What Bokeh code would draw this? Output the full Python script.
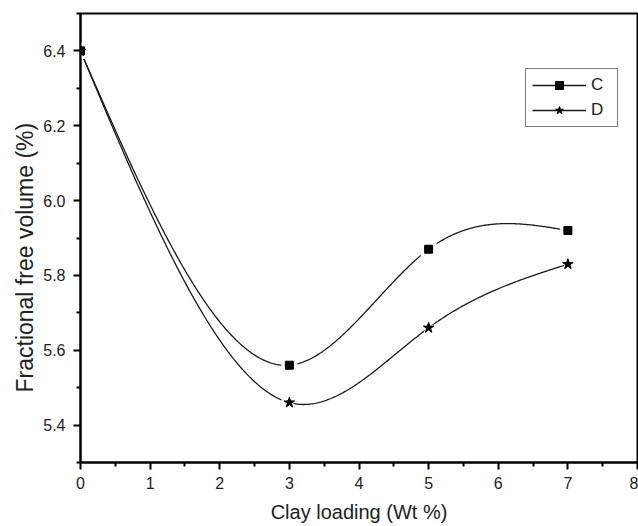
import numpy as np
from bokeh.plotting import figure
from bokeh.models import FixedTicker, Range1d, Legend, LegendItem, Title, PrintfTickFormatter
from bokeh.embed import file_html
from bokeh.resources import INLINE

# ---- data ----
clay_loading = [0, 3, 5, 7]
ffv_C = [6.40, 5.56, 5.87, 5.92]
ffv_D = [6.40, 5.46, 5.66, 5.83]
x_ticks = [0, 1, 2, 3, 4, 5, 6, 7, 8]
y_ticks = [5.4, 5.6, 5.8, 6.0, 6.2, 6.4]


def natural_spline(x, y, n=400):
    x = np.asarray(x, float)
    y = np.asarray(y, float)
    k = len(x)
    h = np.diff(x)
    A = np.zeros((k, k))
    b = np.zeros(k)
    A[0, 0] = 1.0
    A[-1, -1] = 1.0
    for i in range(1, k - 1):
        A[i, i - 1] = h[i - 1]
        A[i, i] = 2 * (h[i - 1] + h[i])
        A[i, i + 1] = h[i]
        b[i] = 6 * ((y[i + 1] - y[i]) / h[i] - (y[i] - y[i - 1]) / h[i - 1])
    M = np.linalg.solve(A, b)
    t = np.linspace(x[0], x[-1], n)
    idx = np.clip(np.searchsorted(x, t) - 1, 0, k - 2)
    xi, xj = x[idx], x[idx + 1]
    yi, yj = y[idx], y[idx + 1]
    Mi, Mj = M[idx], M[idx + 1]
    hh = xj - xi
    s = (Mi * (xj - t) ** 3 / (6 * hh) + Mj * (t - xi) ** 3 / (6 * hh)
         + (yi / hh - Mi * hh / 6) * (xj - t) + (yj / hh - Mj * hh / 6) * (t - xi))
    return t, s


p = figure(width=638, height=526, output_backend="svg", toolbar_location=None,
           x_range=Range1d(0, 8), y_range=Range1d(5.3, 6.5),
           min_border_left=80, min_border_right=1, min_border_top=13, min_border_bottom=64)
p.background_fill_color = "white"
p.border_fill_color = "white"
p.outline_line_color = "black"
p.outline_line_width = 2
p.xgrid.visible = False
p.ygrid.visible = False

line_color = "#1a1a1a"
tC, sC = natural_spline(clay_loading, ffv_C)
tD, sD = natural_spline(clay_loading, ffv_D)
lC = p.line(tC, sC, line_color=line_color, line_width=1.3)
lD = p.line(tD, sD, line_color=line_color, line_width=1.3)

# white halos to reproduce the gaps between lines and symbols
p.scatter(clay_loading, ffv_C, marker="square", size=15, fill_color="white", line_color="white")
p.scatter(clay_loading, ffv_D, marker="star", size=17, fill_color="white", line_color="white")

mC = p.scatter(clay_loading, ffv_C, marker="square", size=8, fill_color="black", line_color="black")
mD = p.scatter(clay_loading, ffv_D, marker="star", size=11, fill_color="black", line_color="black")

for ax in (p.xaxis[0], p.yaxis[0]):
    ax.axis_line_width = 2
    ax.axis_line_color = "black"
    ax.major_tick_line_width = 2
    ax.minor_tick_line_width = 2
    ax.major_tick_line_color = "black"
    ax.minor_tick_line_color = "black"
    ax.major_tick_in = 0
    ax.major_tick_out = 7
    ax.minor_tick_in = 0
    ax.minor_tick_out = 4
    ax.major_label_text_font = "Liberation Sans"
    ax.major_label_text_font_size = "16px"
    ax.major_label_text_color = "#222222"
    ax.axis_label_text_font = "Liberation Sans"
    ax.axis_label_text_font_style = "normal"
    ax.axis_label_text_color = "#222222"

p.xaxis[0].ticker = FixedTicker(ticks=x_ticks,
                                minor_ticks=[v + 0.5 for v in x_ticks[:-1]])
p.yaxis[0].ticker = FixedTicker(ticks=y_ticks,
                                minor_ticks=[round(v - 0.1, 1) for v in y_ticks] + [6.5])
p.yaxis[0].formatter = PrintfTickFormatter(format="%.1f")
p.xaxis[0].axis_label = "Clay loading (Wt %)"
p.xaxis[0].axis_label_text_font_size = "20px"
p.xaxis[0].major_label_standoff = 7
p.yaxis[0].major_label_standoff = 8
p.xaxis[0].axis_label_standoff = 9

# y-axis title placed like the reference (slightly below the frame centre)
ytitle = Title(text="Fractional free volume (%)", align="left", offset=70,
               text_font="Liberation Sans", text_font_size="23px",
               text_font_style="normal", text_color="#222222", standoff=6)
p.add_layout(ytitle, "left")

legend = Legend(items=[LegendItem(label="C", renderers=[lC, mC]),
                       LegendItem(label="D", renderers=[lD, mD])],
                location=(445, 335))
legend.border_line_color = "black"
legend.border_line_width = 1.3
legend.background_fill_color = "white"
legend.background_fill_alpha = 1.0
legend.glyph_width = 54
legend.glyph_height = 20
legend.label_height = 20
legend.spacing = 5
legend.padding = 6
legend.margin = 0
legend.label_standoff = 5
legend.label_text_font = "Liberation Sans"
legend.label_text_font_size = "17px"
legend.label_text_color = "#222222"
p.add_layout(legend)

open("out.html", "w").write(file_html(p, INLINE))
